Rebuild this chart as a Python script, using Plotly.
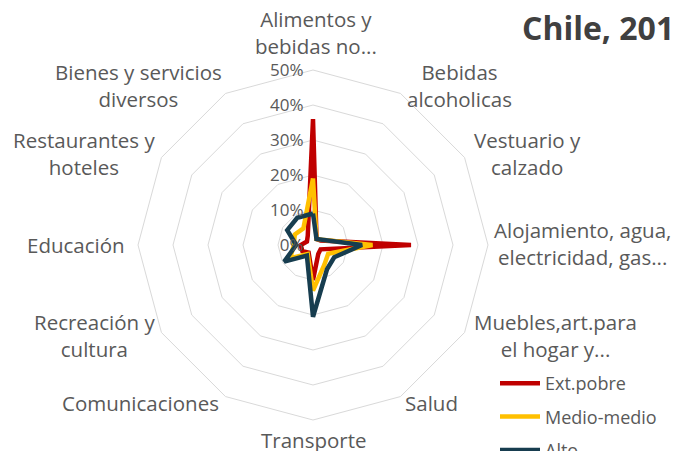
import plotly.graph_objects as go

categorias = ["Alimentos y<br>bebidas no...", "Bebidas<br>alcoholicas", "Vestuario y<br>calzado",
              "Alojamiento, agua,<br>electricidad, gas...", "Muebles,art.para<br>el hogar y...",
              "Salud", "Transporte", "Comunicaciones", "Recreación y<br>cultura", "Educación",
              "Restaurantes y<br>hoteles", "Bienes y servicios<br>diversos"]

ext_pobre = [0.36, 0.02, 0.025, 0.28, 0.025, 0.03, 0.10, 0.025, 0.035, 0.035, 0.02, 0.03]
medio_medio = [0.19, 0.02, 0.03, 0.17, 0.05, 0.065, 0.13, 0.03, 0.075, 0.055, 0.06, 0.055]
alto = [0.09, 0.02, 0.03, 0.14, 0.07, 0.08, 0.205, 0.035, 0.095, 0.048, 0.085, 0.09]

series = [("Ext.pobre", ext_pobre, "#C00000"),
          ("Medio-medio", medio_medio, "#FFC000"),
          ("Alto", alto, "#173D4F")]

W, H = 681, 451
OFF = 8  # page body margin offset
cx, cy, R = 313 - OFF, 245 - OFF, 175

# screen positions (centres) of the category label blocks, as in the reference layout
label_pos = [(316, 33), (459, 85), (527, 153), (582, 243), (555, 335), (431, 403),
             (313, 440), (140, 403), (94, 335), (76, 245), (84, 153), (138, 85)]

fig = go.Figure()
for name, vals, color in series:
    fig.add_trace(go.Scatterpolar(
        r=vals + vals[:1], theta=categorias + categorias[:1],
        mode="lines", name=name, legendgroup=name,
        line=dict(color=color, width=4.5, shape="linear"),
    ))

annotations = [dict(text="<b>Chile, 2018</b>", x=512 / W, y=1 - 20 / H, xref="paper", yref="paper",
                    xanchor="left", yanchor="middle", showarrow=False,
                    font=dict(size=32, color="#404040"))]
for txt, (px, py) in zip(categorias, label_pos):
    annotations.append(dict(text=txt, x=(px - OFF) / W, y=1 - (py - OFF) / H,
                            xref="paper", yref="paper", xanchor="center", yanchor="middle",
                            align="center", showarrow=False,
                            font=dict(size=20.5, color="#595959")))

fig.update_layout(
    width=W, height=H,
    margin=dict(l=0, r=0, t=0, b=0, autoexpand=False),
    paper_bgcolor="white",
    font=dict(family="Open Sans, Lato, sans-serif", color="#595959", size=18),
    polar=dict(
        domain=dict(x=[(cx - R) / W, (cx + R) / W], y=[(H - cy - R) / H, (H - cy + R) / H]),
        gridshape="linear",
        bgcolor="white",
        radialaxis=dict(range=[0, 0.5], dtick=0.1, tick0=0, tickformat=".0%",
                        angle=90, tickangle=90, side="counterclockwise",
                        showline=False, ticks="outside", ticklen=3, tickcolor="rgba(0,0,0,0)",
                        gridcolor="#D9D9D9", gridwidth=1,
                        tickfont=dict(size=17, color="#595959")),
        angularaxis=dict(rotation=90, direction="clockwise", showgrid=False,
                         showline=True, linecolor="#D9D9D9", linewidth=1,
                         ticks="", showticklabels=False),
    ),
    showlegend=True,
    legend=dict(x=487 / W, xanchor="left", y=(H - 357) / H, yanchor="top",
                traceorder="grouped", tracegroupgap=7, itemwidth=40,
                font=dict(size=18, color="#595959"), bgcolor="rgba(0,0,0,0)"),
    annotations=annotations,
)

fig.write_html("out.html")
